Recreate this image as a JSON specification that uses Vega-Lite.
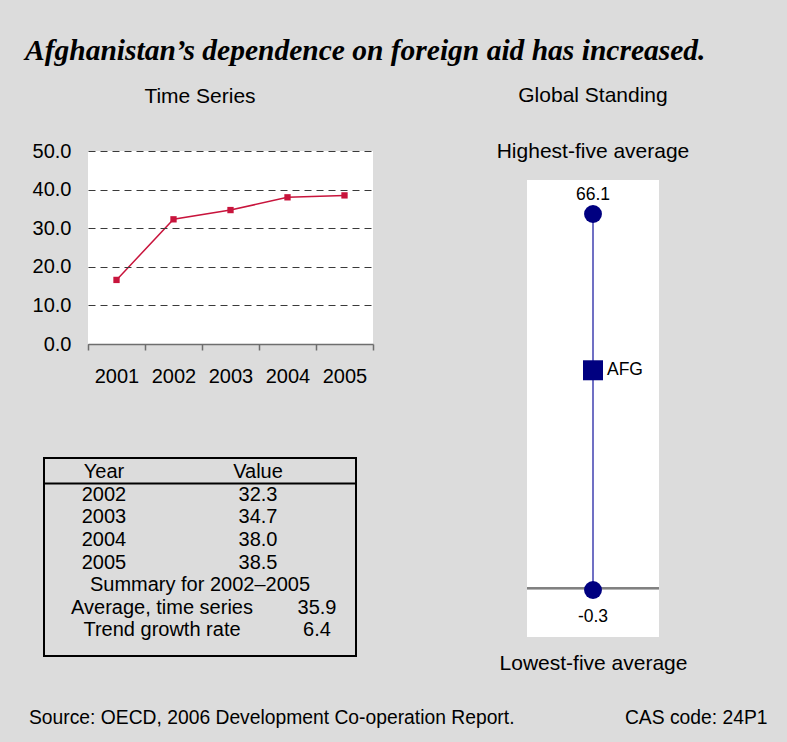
{
  "$schema": "https://vega.github.io/schema/vega-lite/v6.json",
  "background": "#dcdcdc",
  "padding": {"left": 25, "top": 35, "right": 19.5, "bottom": 4.5},
  "title": {
    "text": "Afghanistan’s dependence on foreign aid has increased.",
    "anchor": "start",
    "font": "Liberation Serif",
    "fontSize": 29.5,
    "fontStyle": "italic",
    "fontWeight": "bold",
    "color": "#000",
    "dx": -4,
    "offset": 19
  },
  "spacing": 24.5,
  "vconcat": [
    {
      "spacing": 122,
      "hconcat": [
        {
          "spacing": 71,
          "vconcat": [
            {
              "width": 329,
              "height": 193,
              "view": {"fill": null, "stroke": null},
              "title": {"text": "Time Series", "fontSize": 21, "fontWeight": "normal", "anchor": "middle", "offset": 34, "dx": -8.5, "color": "#000"},
              "data": {
                "values": [
                  {"year": "2001", "value": 16.6},
                  {"year": "2002", "value": 32.3},
                  {"year": "2003", "value": 34.7},
                  {"year": "2004", "value": 38.0},
                  {"year": "2005", "value": 38.5}
                ]
              },
              "encoding": {
                "x": {
                  "field": "year",
                  "type": "ordinal",
                  "scale": {"type": "band", "paddingInner": 0, "paddingOuter": 0, "range": [44, 329]},
                  "axis": {
                    "title": null,
                    "labelAngle": 0,
                    "tickBand": "extent",
                    "tickSize": 6,
                    "tickColor": "#6e6e6e",
                    "tickWidth": 1.5,
                    "domainColor": "#6e6e6e",
                    "domainWidth": 1.5,
                    "labelFontSize": 20,
                    "labelPadding": 16,
                    "labelColor": "#000",
                    "grid": false,
                    "zindex": 2
                  }
                }
              },
              "layer": [
                {
                  "mark": {"type": "rect", "color": "white", "opacity": 1},
                  "encoding": {
                    "y": {
                      "datum": 50,
                      "type": "quantitative",
                      "scale": {"domain": [0, 50], "nice": false},
                      "axis": {
                        "title": null,
                        "values": [0, 10, 20, 30, 40, 50],
                        "format": ".1f",
                        "domain": false,
                        "ticks": false,
                        "offset": -44,
                        "labelFontSize": 20,
                        "labelPadding": 17,
                        "labelColor": "#000",
                        "grid": true,
                        "gridColor": "#3a3a3a",
                        "gridDash": [7, 5],
                        "gridWidth": 1,
                        "gridOpacity": 1,
                        "zindex": 1
                      }
                    },
                    "y2": {"datum": 0}
                  }
                },
                {
                  "mark": {
                    "type": "line",
                    "color": "#c8143c",
                    "strokeWidth": 1.5,
                    "point": {"shape": "square", "size": 40, "filled": true, "color": "#c8143c", "opacity": 1}
                  },
                  "encoding": {
                    "y": {
                      "field": "value",
                      "type": "quantitative",
                      "scale": {"domain": [0, 50], "nice": false},
                      "axis": {
                        "title": null,
                        "values": [0, 10, 20, 30, 40, 50],
                        "format": ".1f",
                        "domain": false,
                        "ticks": false,
                        "offset": -44,
                        "labelFontSize": 20,
                        "labelPadding": 17,
                        "labelColor": "#000",
                        "grid": true,
                        "gridColor": "#3a3a3a",
                        "gridDash": [7, 5],
                        "gridWidth": 1,
                        "gridOpacity": 1,
                        "zindex": 1
                      }
                    }
                  }
                }
              ]
            },
            {
              "width": 312,
              "height": 198,
              "view": {"stroke": "#000", "strokeWidth": 2, "fill": null},
              "data": {
                "values": [
                  {"row": 0, "col": "c1", "label": "Year"},
                  {"row": 0, "col": "c2", "label": "Value"},
                  {"row": 1, "col": "c1", "label": "2002"},
                  {"row": 1, "col": "c2", "label": "32.3"},
                  {"row": 2, "col": "c1", "label": "2003"},
                  {"row": 2, "col": "c2", "label": "34.7"},
                  {"row": 3, "col": "c1", "label": "2004"},
                  {"row": 3, "col": "c2", "label": "38.0"},
                  {"row": 4, "col": "c1", "label": "2005"},
                  {"row": 4, "col": "c2", "label": "38.5"},
                  {"row": 5, "col": "mid", "label": "Summary for 2002–2005"},
                  {"row": 6, "col": "s1", "label": "Average, time series"},
                  {"row": 6, "col": "s2", "label": "35.9"},
                  {"row": 7, "col": "s1", "label": "Trend growth rate"},
                  {"row": 7, "col": "s2", "label": "6.4"}
                ]
              },
              "encoding": {
                "y": {
                  "field": "row",
                  "type": "ordinal",
                  "scale": {"type": "band", "paddingInner": 0, "paddingOuter": 0.38, "align": 0.17},
                  "axis": null
                }
              },
              "layer": [
                {
                  "transform": [{"filter": "datum.row <= 4"}],
                  "mark": {"type": "text", "fontSize": 20, "color": "#000"},
                  "encoding": {
                    "x": {"field": "col", "type": "nominal", "scale": {"type": "point", "domain": ["c1", "c2"], "range": [60, 214], "padding": 0}, "axis": null},
                    "text": {"field": "label"}
                  }
                },
                {
                  "transform": [{"filter": "datum.row >= 6"}],
                  "mark": {"type": "text", "fontSize": 20, "color": "#000"},
                  "encoding": {
                    "x": {"field": "col", "type": "nominal", "scale": {"type": "point", "domain": ["s1", "s2"], "range": [118, 273], "padding": 0}, "axis": null},
                    "text": {"field": "label"}
                  }
                },
                {
                  "transform": [{"filter": "datum.row == 5"}],
                  "mark": {"type": "text", "fontSize": 20, "color": "#000"},
                  "encoding": {
                    "text": {"field": "label"}
                  }
                },
                {
                  "data": {"values": [{"row": 1}]},
                  "mark": {"type": "rule", "color": "#000", "strokeWidth": 2},
                  "encoding": {
                    "y": {"field": "row", "type": "ordinal", "bandPosition": 0}
                  }
                }
              ],
              "resolve": {"scale": {"x": "independent"}}
            }
          ]
        },
        {
          "spacing": 0,
          "vconcat": [
            {
              "width": 132,
              "height": 29,
              "view": {"fill": null, "stroke": null},
              "title": {"text": "Global Standing", "fontSize": 21, "fontWeight": "normal", "anchor": "middle", "offset": 35, "color": "#000"},
              "data": {"values": [{"label": "Highest-five average"}]},
              "mark": {"type": "text", "fontSize": 21, "dy": -13.5, "color": "#000"},
              "encoding": {"text": {"field": "label"}}
            },
            {
              "width": 132,
              "height": 457,
              "view": {"fill": "white", "stroke": null},
              "data": {
                "values": [
                  {"kind": "Highest-five average", "value": 66.1},
                  {"kind": "Lowest-five average", "value": -0.3},
                  {"kind": "AFG", "value": 38.5}
                ]
              },
              "layer": [
                {
                  "mark": {"type": "rule", "color": "#808080", "strokeWidth": 2},
                  "encoding": {
                    "y": {"datum": 0, "type": "quantitative", "scale": {"domain": [-8.6, 72.1], "nice": false, "zero": false}, "axis": null}
                  }
                },
                {
                  "mark": {"type": "rule", "color": "#4040b0", "strokeWidth": 1.5},
                  "encoding": {
                    "x": {"datum": "AFG", "type": "nominal", "axis": {"title": "Lowest-five average", "labels": false, "ticks": false, "domain": false, "titleFontSize": 21, "titleFontWeight": "normal", "titlePadding": 15, "titleColor": "#000"}},
                    "y": {"aggregate": "max", "field": "value", "type": "quantitative", "axis": null},
                    "y2": {"aggregate": "min", "field": "value"}
                  }
                },
                {
                  "transform": [{"filter": "datum.kind !== 'AFG'"}],
                  "mark": {"type": "circle", "size": 320, "color": "#000080", "opacity": 1},
                  "encoding": {
                    "x": {"datum": "AFG", "type": "nominal"},
                    "y": {"field": "value", "type": "quantitative", "axis": null}
                  }
                },
                {
                  "transform": [{"filter": "datum.kind === 'AFG'"}],
                  "mark": {"type": "square", "size": 400, "color": "#000080", "opacity": 1},
                  "encoding": {
                    "x": {"datum": "AFG", "type": "nominal"},
                    "y": {"field": "value", "type": "quantitative", "axis": null}
                  }
                },
                {
                  "transform": [{"filter": "datum.kind === 'Highest-five average'"}],
                  "mark": {"type": "text", "fontSize": 17.5, "dy": -19, "color": "#000"},
                  "encoding": {
                    "x": {"datum": "AFG", "type": "nominal"},
                    "y": {"field": "value", "type": "quantitative", "axis": null},
                    "text": {"field": "value", "type": "quantitative", "format": ".1f"}
                  }
                },
                {
                  "transform": [{"filter": "datum.kind === 'Lowest-five average'"}],
                  "mark": {"type": "text", "fontSize": 17.5, "dy": 27, "color": "#000"},
                  "encoding": {
                    "x": {"datum": "AFG", "type": "nominal"},
                    "y": {"field": "value", "type": "quantitative", "axis": null},
                    "text": {"field": "value", "type": "quantitative", "format": ".1f"}
                  }
                },
                {
                  "transform": [{"filter": "datum.kind === 'AFG'"}],
                  "mark": {"type": "text", "fontSize": 17.5, "align": "left", "dx": 14, "color": "#000"},
                  "encoding": {
                    "x": {"datum": "AFG", "type": "nominal"},
                    "y": {"field": "value", "type": "quantitative", "axis": null},
                    "text": {"field": "kind"}
                  }
                }
              ]
            }
          ]
        }
      ]
    },
    {
      "width": 723.5,
      "height": 40,
      "data": {
        "values": [
          {"part": "source", "text": "Source: OECD, 2006 Development Co-operation Report."},
          {"part": "cas", "text": "CAS code: 24P1"}
        ]
      },
      "layer": [
        {
          "transform": [{"filter": "datum.part === 'source'"}],
          "mark": {"type": "text", "align": "left", "fontSize": 19.3, "color": "#000"},
          "encoding": {
            "x": {"field": "part", "type": "nominal", "scale": {"type": "point", "domain": ["source", "cas"], "range": [-15, 723.5], "padding": 0}, "axis": null},
            "text": {"field": "text"}
          }
        },
        {
          "transform": [{"filter": "datum.part === 'cas'"}],
          "mark": {"type": "text", "align": "right", "fontSize": 19.3, "color": "#000"},
          "encoding": {
            "x": {"field": "part", "type": "nominal", "axis": null},
            "text": {"field": "text"}
          }
        }
      ]
    }
  ],
  "config": {
    "view": {"stroke": null},
    "font": "Liberation Sans",
    "locale": {"number": {"decimal": ".", "thousands": ",", "grouping": [3], "currency": ["$", ""], "minus": "-"}},
    "title": {"color": "#000", "fontWeight": "normal", "font": "Liberation Sans"},
    "axis": {"labelFont": "Liberation Sans", "titleFont": "Liberation Sans", "labelColor": "#000", "titleColor": "#000"},
    "text": {"font": "Liberation Sans", "color": "#000"}
  }
}
